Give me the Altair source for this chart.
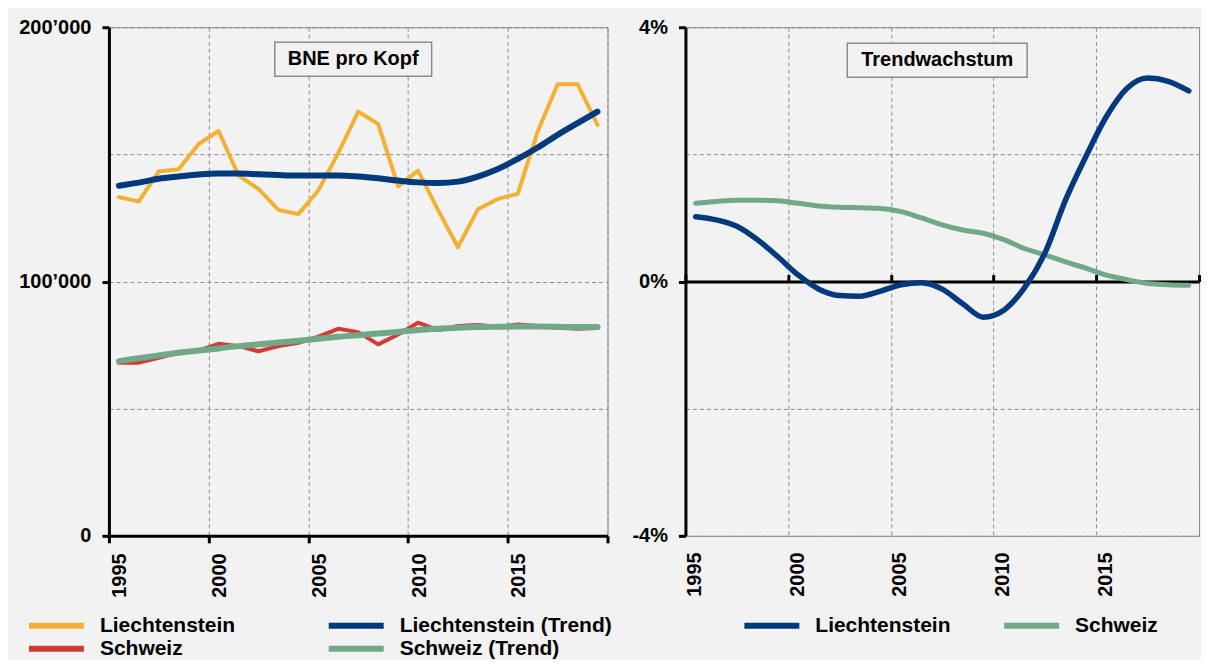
import altair as alt
import pandas as pd

years = list(range(1995, 2020))

# BNE pro Kopf (CHF, in Tausend)
li_bne = [133.2, 131.5, 143.3, 144.2, 154.1, 159.2, 141.7, 136.4, 128.2, 126.5,
          135.8, 150.5, 166.8, 162.0, 137.4, 143.6, 128.2, 113.5, 128.4, 132.5,
          134.5, 159.0, 177.6, 177.6, 161.6]
li_bne_trend = [137.7, 138.9, 140.4, 141.3, 142.1, 142.5, 142.5, 142.2, 141.9, 141.7,
                141.7, 141.7, 141.3, 140.6, 139.7, 139.0, 138.8, 139.3, 141.3, 144.3,
                148.2, 152.7, 157.7, 162.3, 166.8]
ch_bne = [68.1, 68.1, 70.0, 72.0, 72.9, 75.5, 74.6, 72.6, 74.6, 75.9,
          78.3, 81.4, 80.1, 75.3, 79.2, 83.8, 80.9, 82.5, 82.9, 82.2,
          83.1, 82.5, 81.8, 81.4, 81.7]
ch_bne_trend = [68.7, 69.8, 70.9, 72.0, 72.9, 73.7, 74.6, 75.3, 76.0, 76.7,
                77.5, 78.3, 78.9, 79.6, 80.2, 80.9, 81.4, 81.8, 82.1, 82.2,
                82.3, 82.3, 82.2, 82.1, 82.1]

# Trendwachstum (%)
li_growth = [1.02, 0.97, 0.87, 0.66, 0.39, 0.10, -0.12, -0.22, -0.23, -0.15,
             -0.05, -0.02, -0.12, -0.35, -0.56, -0.45, -0.10, 0.45, 1.28, 1.97,
             2.60, 3.04, 3.20, 3.15, 3.00]
ch_growth = [1.23, 1.26, 1.28, 1.28, 1.27, 1.23, 1.19, 1.17, 1.16, 1.15,
             1.10, 1.00, 0.89, 0.81, 0.76, 0.66, 0.52, 0.42, 0.31, 0.21,
             0.10, 0.03, -0.03, -0.05, -0.06]

left_names = ["Liechtenstein", "Schweiz", "Liechtenstein (Trend)", "Schweiz (Trend)"]
left_colors = ["#F2B134", "#D13B36", "#003A7D", "#70A888"]
right_names = ["Liechtenstein", "Schweiz"]
right_colors = ["#003A7D", "#70A888"]

x_ticks = [1995, 2000, 2005, 2010, 2015, 2020]
left_y_ticks = [0, 50000, 100000, 150000, 200000]
right_y_ticks = [-4, -2, 0, 2, 4]
panel_titles = ["BNE pro Kopf", "Trendwachstum"]

FONT = "Liberation Sans"
GRID = "#8c8c8c"
PLOT_H = 509


def frame(series):
    rows = []
    for name, vals, mult in series:
        for yr, v in zip(years, vals):
            rows.append({"pos": yr + 0.5, "Jahr": yr, "value": v * mult, "series": name})
    return pd.DataFrame(rows)


df_left_raw = frame([("Liechtenstein", li_bne, 1000), ("Schweiz", ch_bne, 1000)])
df_left_trend = frame([("Liechtenstein (Trend)", li_bne_trend, 1000),
                       ("Schweiz (Trend)", ch_bne_trend, 1000)])
df_right_li = frame([("Liechtenstein", li_growth, 1)])
df_right_ch = frame([("Schweiz", ch_growth, 1)])

label_style = dict(labelFont=FONT, labelFontSize=20, labelFontWeight="bold", labelColor="black")


def legend(x, y, colpad):
    return alt.Legend(orient="none", legendX=x, legendY=y, columns=2, columnPadding=colpad,
                      rowPadding=2, symbolType="stroke", symbolSize=3025, symbolStrokeWidth=6,
                      clipHeight=20, labelFont=FONT, labelFontSize=21, labelFontWeight="bold",
                      labelColor="black", labelOffset=13, labelLimit=400, title=None)


# ---------- left panel ----------
xl = alt.X("pos:Q", scale=alt.Scale(domain=[1995, 2020], nice=False, zero=False),
           axis=alt.Axis(values=x_ticks, labelExpr="datum.value < 2020 ? '' + datum.value : ''",
                         labelAngle=270, labelOffset=11, labelPadding=10, **label_style,
                         domainColor="black", domainWidth=3, tickColor="black", tickWidth=3,
                         tickSize=7, grid=True, gridColor=GRID, gridDash=[4, 3], gridWidth=1,
                         title=None))
yl = alt.Y("value:Q", scale=alt.Scale(domain=[0, 200000], nice=False),
           axis=alt.Axis(values=left_y_ticks,
                         labelExpr="datum.value % 100000 == 0 ? replace(format(datum.value, ','), ',', '\u2019') : ''",
                         **label_style, labelPadding=11,
                         domainColor="black", domainWidth=3, tickColor="black", tickWidth=3,
                         tickSize=7,
                         tickOpacity={"condition": {"test": "datum.value % 100000 == 0", "value": 1}, "value": 0},
                         grid=True, gridColor=GRID, gridDash=[4, 3], gridWidth=1, title=None))
cl = alt.Color("series:N", scale=alt.Scale(domain=left_names, range=left_colors),
               legend=legend(-83, 589, 90))

raw = alt.Chart(df_left_raw).mark_line(strokeWidth=4, strokeJoin="round", strokeCap="round").encode(
    x=xl, y=yl, color=cl, detail="series:N")
trend = alt.Chart(df_left_trend).mark_line(strokeWidth=6, interpolate="monotone",
                                           strokeCap="round").encode(
    x=xl, y=yl, color=cl)

title_l = alt.Chart(pd.DataFrame({"t": [panel_titles[0]]}))
box_l = title_l.mark_rect(fill="#f2f2f2", stroke="#8c8c8c", strokeWidth=1.5).encode(
    x=alt.value(166), x2=alt.value(323), y=alt.value(15), y2=alt.value(49))
txt_l = title_l.mark_text(font=FONT, fontSize=20, fontWeight="bold", color="black").encode(
    x=alt.value(244.5), y=alt.value(32), text="t:N")

left = alt.layer(raw, trend, box_l, txt_l).properties(width=499, height=PLOT_H)

# ---------- right panel ----------
xscale_r = alt.Scale(domain=[1995, 2020], nice=False, zero=False)
xr_bottom = alt.X("pos:Q", scale=xscale_r,
                  axis=alt.Axis(values=x_ticks, labelExpr="datum.value < 2020 ? '' + datum.value : ''",
                                labelAngle=270, labelOffset=9, labelPadding=16, **label_style,
                                domain=False, ticks=False, grid=True, gridColor=GRID,
                                gridDash=[4, 3], gridWidth=1, title=None))
xr_zero = alt.X("pos:Q", scale=xscale_r,
                axis=alt.Axis(orient="top", offset=-PLOT_H / 2, values=x_ticks, labels=False,
                              domainColor="black", domainWidth=3, tickColor="black",
                              tickWidth=3, tickSize=7, grid=False, title=None))
yr = alt.Y("value:Q", scale=alt.Scale(domain=[-4, 4], nice=False),
           axis=alt.Axis(values=right_y_ticks,
                         labelExpr="datum.value % 4 == 0 ? datum.value + '%' : ''",
                         **label_style, labelPadding=11,
                         domainColor="black", domainWidth=3, tickColor="black", tickWidth=3,
                         tickSize=7,
                         tickOpacity={"condition": {"test": "datum.value % 4 == 0", "value": 1}, "value": 0},
                         grid=True, gridColor=GRID, gridDash=[4, 3], gridWidth=1, title=None))
cr = alt.Color("series:N", scale=alt.Scale(domain=right_names, range=right_colors),
               legend=legend(56, 589, 50))

line_ch = alt.Chart(df_right_ch).mark_line(strokeWidth=5, interpolate="monotone",
                                           strokeCap="round").encode(
    x=xr_zero, y=yr, color=cr)
line_li = alt.Chart(df_right_li).mark_line(strokeWidth=5.5, interpolate="monotone",
                                           strokeCap="round").encode(
    x=xr_bottom, y=yr, color=cr)

title_r = alt.Chart(pd.DataFrame({"t": [panel_titles[1]]}))
box_r = title_r.mark_rect(fill="#f2f2f2", stroke="#8c8c8c", strokeWidth=1.5).encode(
    x=alt.value(162), x2=alt.value(342), y=alt.value(16), y2=alt.value(50))
txt_r = title_r.mark_text(font=FONT, fontSize=20, fontWeight="bold", color="black").encode(
    x=alt.value(252), y=alt.value(33), text="t:N")

right = alt.layer(line_ch, line_li, box_r, txt_r).resolve_axis(x="independent").properties(
    width=514, height=PLOT_H)

chart = alt.hconcat(left, right, spacing=17).resolve_scale(
    color="independent").resolve_legend(color="independent").configure(
    background="#f2f2f2", padding={"left": 10, "top": 8, "right": 0, "bottom": 0}).configure_view(
    stroke=GRID, strokeWidth=1)

chart.save("out.html", embed_options={"renderer": "svg", "actions": False})
